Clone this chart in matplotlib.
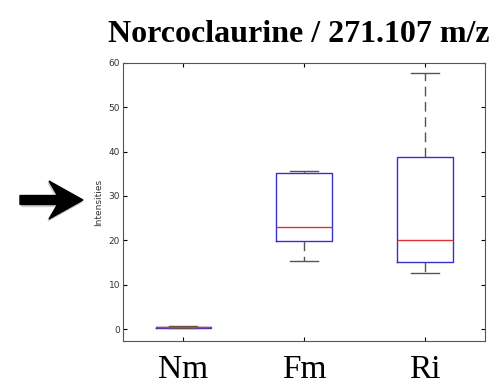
import matplotlib
matplotlib.use("Agg")
import matplotlib.pyplot as plt
from matplotlib.patches import FancyArrow

# box statistics
groups = ["Nm", "Fm", "Ri"]
whislo = [0.2, 15.3, 12.6]
q1 = [0.3, 19.9, 15.1]
med = [0.4, 23.0, 20.1]
q3 = [0.5, 35.2, 38.8]
whishi = [0.7, 35.7, 57.7]

stats = []
for i in range(len(groups)):
    stats.append({"label": groups[i], "whislo": whislo[i], "q1": q1[i], "med": med[i],
                  "q3": q3[i], "whishi": whishi[i], "fliers": []})

fig = plt.figure(figsize=(4.94, 3.9), dpi=100)
ax = fig.add_axes([0.249, 0.1256, 0.733, 0.713])

ax.bxp(stats, positions=[1, 2, 3], widths=0.46, capwidths=0.23, showfliers=False,
       boxprops=dict(color="#3333cc", linewidth=1.0),
       medianprops=dict(color="#dd3333", linewidth=1.0),
       whiskerprops=dict(color="#555555", linestyle=(0, (7, 4)), linewidth=1.0),
       capprops=dict(color="#555555", linewidth=1.0))

ax.set_xlim(0.5, 3.5)
ax.set_ylim(-2.7, 60)
ax.set_yticks([0, 10, 20, 30, 40, 50, 60])
ax.set_xticks([1, 2, 3])
ax.set_xticklabels(groups, family="Liberation Serif", fontsize=24)
ax.tick_params(axis="y", labelsize=6.5, labelcolor="#333333", direction="in",
               length=3, right=True, pad=2)
ax.tick_params(axis="x", direction="in", length=3, top=True, pad=10)
for s in ax.spines.values():
    s.set_color("#555555")
    s.set_linewidth(0.8)
ax.set_ylabel("Intensities", fontsize=6.5, color="#333333", labelpad=4)

fig.text(299 / 494, 1 - 42 / 390, "Norcoclaurine / 271.107 m/z",
         family="Liberation Serif", fontweight="bold", fontsize=23,
         ha="center", va="baseline")

# the pointer arrow on the left
sc = fig.dpi_scale_trans
fig.patches.append(FancyArrow(0.22, 1.88, 0.6, 0, width=0.09, head_width=0.38,
                              head_length=0.34, overhang=0.25, length_includes_head=True,
                              color="#bbbbbb", alpha=0.6, transform=sc, figure=fig))
fig.patches.append(FancyArrow(0.2, 1.9, 0.63, 0, width=0.09, head_width=0.38,
                              head_length=0.34, overhang=0.25, length_includes_head=True,
                              color="black", transform=sc, figure=fig))

fig.savefig("out.png", dpi=100)
